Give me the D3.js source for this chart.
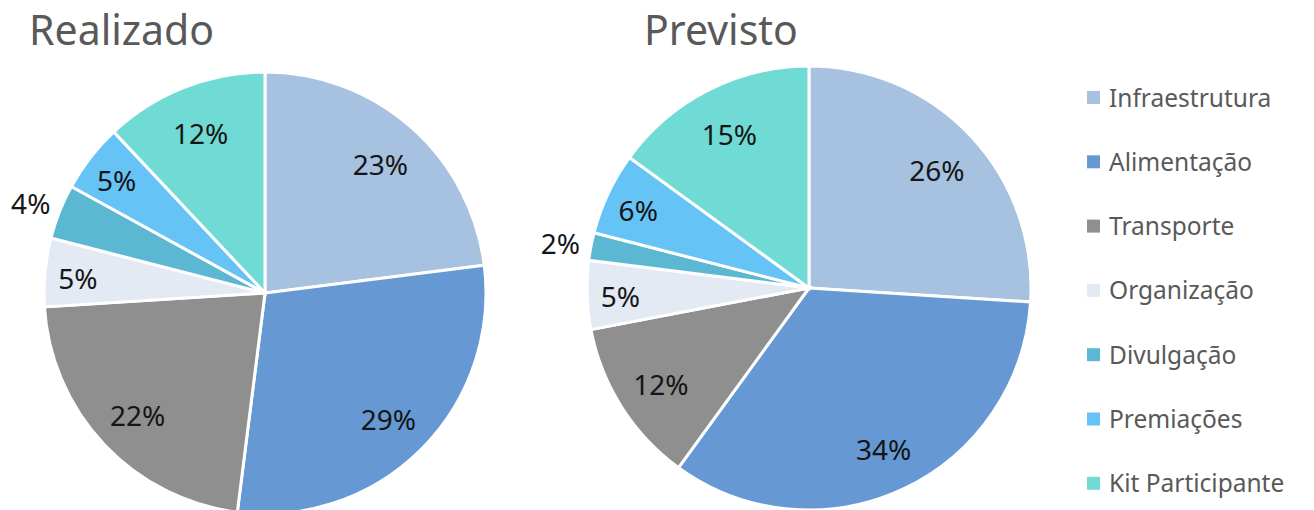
<!DOCTYPE html>
<html>
<head>
<meta charset="utf-8">
<script src="https://cdn.jsdelivr.net/npm/d3@7"></script>
<style>
  body { margin: 0; background: #fff; }
  text { font-family: "Noto Sans", "Open Sans", sans-serif; }
</style>
</head>
<body>
<script>
// categories and values (percent)
var categories = ["Infraestrutura", "Alimentação", "Transporte", "Organização", "Divulgação", "Premiações", "Kit Participante"];
var realizado = [23, 29, 22, 5, 4, 5, 12];
var previsto = [26, 34, 12, 5, 2, 6, 15];
var colors = ["#a7c1e0", "#6699d3", "#8f8f8f", "#e3eaf4", "#5cb8d2", "#66c3f5", "#70dad4"];
// slices whose label sits outside the pie
var outsideRealizado = ["Divulgação"];
var outsidePrevisto = ["Divulgação"];

var width = 1314, height = 510;

var svg = d3.select("body").append("svg")
    .attr("width", width)
    .attr("height", height);

var color = d3.scaleOrdinal().domain(categories).range(colors);

function drawPie(title, values, outside, cx, cy, r, titleX) {
  var data = categories.map(function(c, i){ return {cat: c, value: values[i]}; });
  var pie = d3.pie().sort(null).value(function(d){ return d.value; });
  var arc = d3.arc().innerRadius(0).outerRadius(r);

  var g = svg.append("g").attr("transform", "translate(" + cx + "," + cy + ")");

  g.selectAll("path")
    .data(pie(data)).enter()
    .append("path")
    .attr("d", arc)
    .style("fill", function(d){ return color(d.data.cat); })
    .style("stroke", "#fff")
    .style("stroke-width", 3);

  g.selectAll("text.lbl")
    .data(pie(data)).enter()
    .append("text")
    .attr("class", "lbl")
    .attr("transform", function(d){
      var k;
      if (outside.indexOf(d.data.cat) >= 0) k = 1.14;
      else if (d.data.value < 8) k = 0.85;
      else k = 0.79;
      var a = (d.startAngle + d.endAngle) / 2;
      return "translate(" + (Math.sin(a) * r * k) + "," + (-Math.cos(a) * r * k) + ")";
    })
    .attr("dy", "0.48em")
    .style("text-anchor", "middle")
    .style("font-size", "28px")
    .style("fill", "#151515")
    .text(function(d){ return d.data.value + "%"; });

  svg.append("text")
    .attr("x", titleX)
    .attr("y", 45)
    .style("font-size", "41px")
    .style("fill", "#595959")
    .text(title);
}

drawPie("Realizado", realizado, outsideRealizado, 265, 293, 221, 29);
drawPie("Previsto", previsto, outsidePrevisto, 809, 288, 222, 644);

// legend
var legend = svg.append("g").attr("transform", "translate(1087,98)");
var item = legend.selectAll("g")
    .data(categories).enter()
    .append("g")
    .attr("transform", function(d, i){ return "translate(0," + (i * 64.3) + ")"; });

item.append("rect")
    .attr("x", 0).attr("y", -7)
    .attr("width", 13).attr("height", 13)
    .style("fill", function(d){ return color(d); });

item.append("text")
    .attr("x", 22)
    .attr("dy", "0.35em")
    .style("font-size", "24.5px")
    .style("fill", "#595959")
    .text(function(d){ return d; });
</script>
</body>
</html>
